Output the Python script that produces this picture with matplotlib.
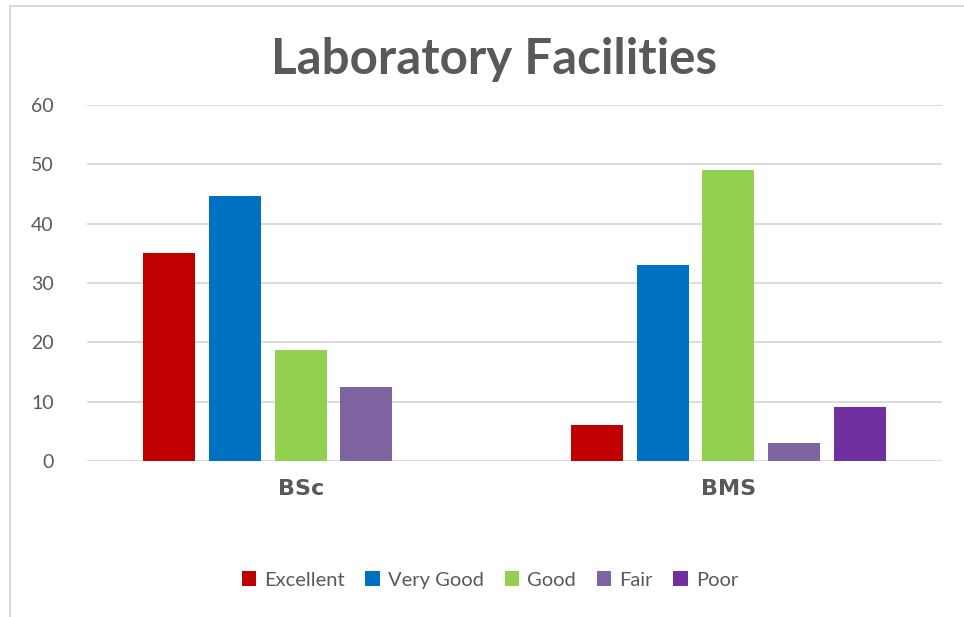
import numpy as np
import matplotlib.pyplot as plt
from matplotlib.patches import Rectangle

# datos
programas = ["BSc", "BMS"]
niveles = ["Excellent", "Very Good", "Good", "Fair", "Poor"]
excellent = [35, 6]
very_good = [44.6, 33]
good = [18.7, 49]
fair = [12.4, 3.1]
poor = [0, 9.1]
colores = ["#C00000", "#0070C0", "#92D050", "#8064A2", "#7030A0"]

series = [excellent, very_good, good, fair, poor]

fig = plt.figure(figsize=(9.64, 6.17), dpi=100)
ax = fig.add_axes([87/964, 1-461/617, 855/964, 356/617])

x = np.arange(len(programas))
paso = 0.1537
ancho = 0.1217
for i, (nombre, valores) in enumerate(zip(niveles, series)):
	ax.bar(x + (i-2)*paso, valores, ancho, color=colores[i], label=nombre, zorder=3)

ax.set_xlim(-0.5, 1.5)
ax.set_ylim(0, 60)
ax.set_yticks(range(0, 61, 10))
ax.set_xticks(x)
ax.set_xticklabels(programas, fontsize=16, fontweight="heavy", color="#595959",
				   family=["DejaVu Sans"])
ax.tick_params(axis="x", length=0, pad=13)
ax.tick_params(axis="y", length=0, pad=24, labelsize=14, labelcolor="#595959")
for t in ax.get_yticklabels():
	t.set_family(["Lato", "DejaVu Sans"])
ax.grid(axis="y", color="#D9D9D9", linewidth=1.3, zorder=0)
for s in ax.spines.values():
	s.set_visible(False)

fig.text(0.512, 1-60/617, "Laboratory Facilities", ha="center", va="center",
		 fontsize=35.5, fontweight="bold", color="#595959", family=["Lato", "DejaVu Sans"])

leg = fig.legend(loc="center", bbox_to_anchor=(0.508, 1-580/617), ncol=5, frameon=False,
				 handlelength=0.7, handleheight=0.7, handletextpad=0.4, columnspacing=1.05,
				 prop={"family": ["Lato", "DejaVu Sans"], "size": 14.5})
for t in leg.get_texts():
	t.set_color("#595959")

# marco
fig.patches.append(Rectangle((10/964, -0.01), 1.0, 1-6/617+0.01, transform=fig.transFigure,
							 fill=False, edgecolor="#D9D9D9", linewidth=1.5))

fig.savefig("out.png", dpi=100)
